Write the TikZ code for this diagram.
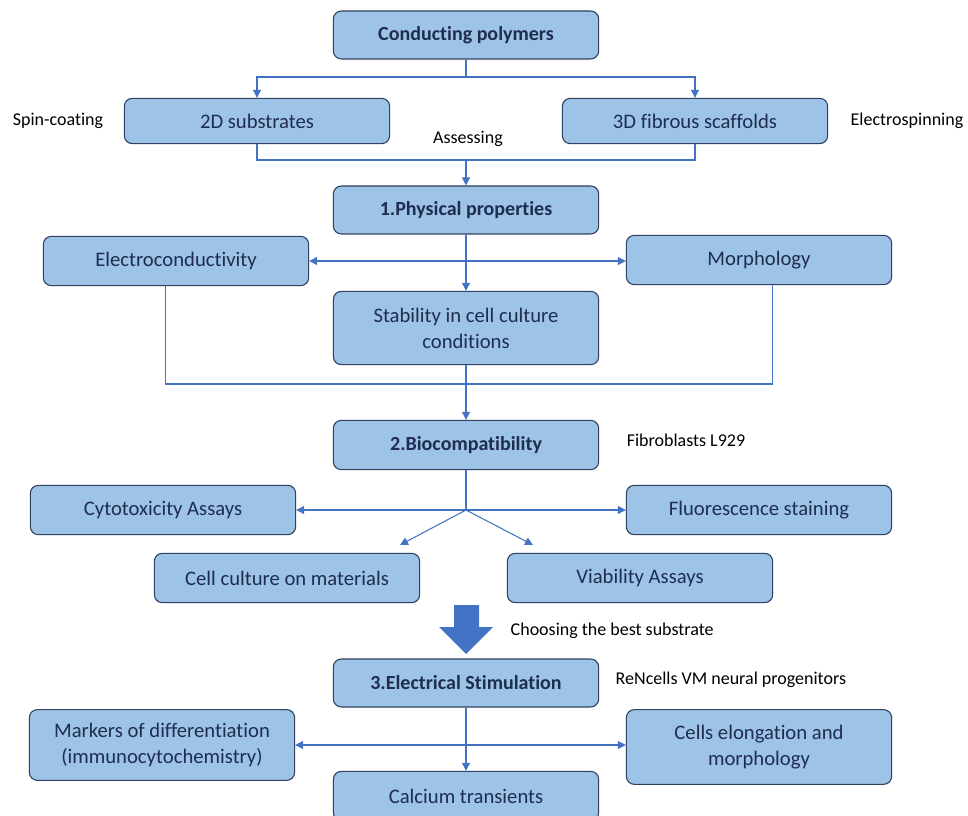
\documentclass[tikz,border=0pt]{standalone}
\usepackage{fontspec}
\setmainfont{Carlito}[Ligatures=NoCommon]
\usetikzlibrary{positioning, arrows.meta}
\definecolor{boxblue}{HTML}{9DC3E6}
\definecolor{boxedge}{HTML}{2F4060}
\definecolor{textnavy}{HTML}{1F2D50}
\definecolor{lineblue}{HTML}{4472C4}

\begin{document}
\begin{tikzpicture}[
  x=0.75pt, y=-0.75pt,
  boite/.style={fill=boxblue, draw=boxedge, line width=0.8pt, rounded corners=6pt,
    minimum width=199pt, minimum height=#1, inner sep=2pt, align=center,
    text=textnavy, font=\fontsize{15.5}{19.5}\selectfont},
  boite/.default=36pt,
  titre/.style={boite, font=\fontsize{15}{19.5}\selectfont\bfseries},
  note/.style={font=\fontsize{13.5}{16}\selectfont, text=black},
  lien/.style={draw=lineblue, line width=0.8pt},
  fleche/.style={lien, -{Triangle[width=6pt,length=6pt]}},
  double/.style={lien, {Triangle[width=6pt,length=6pt]}-{Triangle[width=6pt,length=6pt]}},
]
\clip (0,0) rectangle (968,816);

% Materiaux
\node[titre] (cp) at (466,35) {Conducting polymers};
\node[boite, minimum height=34pt] (s2d) at (257,121) {2D substrates};
\node[boite, minimum height=34pt] (s3d) at (695,121) {3D fibrous scaffolds};
\node[note] (spin) at (58,121) {Spin-coating};
\node[note] (elspin) at (907,121) {Electrospinning};
\node[note] (assess) at (468,139) {Assessing};

\coordinate (j1) at (466,77);
\draw[lien] (cp.south) -- (j1);
\draw[fleche] (j1) -| (s2d.north);
\draw[fleche] (j1) -| (s3d.north);

% 1. Proprietes physiques
\node[titre] (phys) at (466,210) {1.Physical properties};
\node[boite, minimum height=37pt] (elec) at (176,261) {Electroconductivity};
\node[boite, minimum height=37pt] (morph) at (759,260) {Morphology};
\node[boite, minimum height=55pt] (stab) at (466,328) {Stability in cell culture\\conditions};

\coordinate (j2) at (466,160);
\draw[lien] (s2d.south) |- (j2) -| (s3d.south);
\draw[fleche] (j2) -- (phys.north);

\draw[fleche] (phys.south) -- (stab.north);
\draw[double] (elec.east) -- (morph.west |- elec.east);
\coordinate (j3) at (466,384);
\draw[lien] ([xshift=-8pt]elec.south) |- (j3) -| ([xshift=10pt]morph.south);

% 2. Biocompatibilite
\node[titre, minimum height=37pt] (bio) at (466,445) {2.Biocompatibility};
\node[note] (fibro) at (686,440) {Fibroblasts L929};
\node[boite, minimum height=37pt] (cyto) at (163,510) {Cytotoxicity Assays};
\node[boite, minimum height=37pt] (fluo) at (759,510) {Fluorescence staining};
\node[boite, minimum height=37pt] (cult) at (287,578) {Cell culture on materials};
\node[boite, minimum height=37pt] (viab) at (640,578) {Viability Assays};

\draw[fleche] (stab.south) -- (bio.north);
\coordinate (j4) at (466,510);
\coordinate (t1) at (400,545);
\coordinate (t2) at (533,545);
\draw[lien] (bio.south) -- (j4);
\draw[fleche] (j4) -- (cyto.east);
\draw[fleche] (j4) -- (fluo.west);
\draw[fleche] (j4) -- (t1);
\draw[fleche] (j4) -- (t2);

% Choix du substrat
\fill[lineblue] (454,605) -- (479,605) -- (479,627) -- (493,627) -- (466,654)
  -- (439,627) -- (454,627) -- cycle;
\node[note, anchor=west] (choix) at (506,631) {Choosing the best substrate};

% 3. Stimulation electrique
\node[titre] (stim) at (466,683) {3.Electrical Stimulation};
\node[note, anchor=west] (renc) at (611,680) {ReNcells VM neural progenitors};
\node[boite, minimum height=53pt] (mark) at (162,745) {Markers of differentiation\\(immunocytochemistry)};
\node[boite, minimum height=56pt] (elong) at (759,747) {Cells elongation and\\morphology};
\node[boite, minimum height=37pt] (calc) at (466,796) {Calcium transients};

\draw[fleche] (stim.south) -- (calc.north);
\draw[double] (mark.east) -- (elong.west |- mark.east);

\end{tikzpicture}
\end{document}
